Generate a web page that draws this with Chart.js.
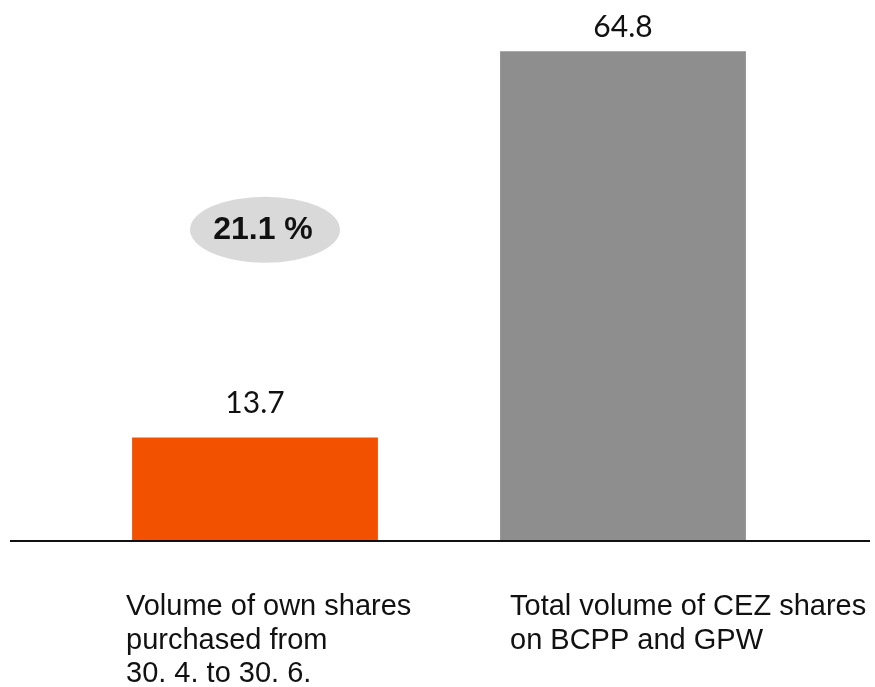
<!DOCTYPE html>
<html lang="en">
<head>
    <meta charset="UTF-8">
    <title>Own shares vs total volume of CEZ shares</title>
    <script src="https://cdn.jsdelivr.net/npm/chart.js"></script>
    <style>
        body {
            margin: 0;
            padding: 0;
            background-color: #ffffff;
        }
        .chart-container {
            width: 875px;
            height: 687px;
            position: relative;
        }
    </style>
</head>
<body>

<div class="chart-container">
    <canvas id="graf"></canvas>
</div>

<script>
// data
var categories = [
    ['Volume of own shares', 'purchased from', '30. 4. to 30. 6.'],
    ['Total volume of CEZ shares', 'on BCPP and GPW']
];
var volumes = [13.7, 64.8];
var barColors = ['#f25100', '#8e8e8e'];
var shareLabel = '21.1 %';

// baseline, value labels, category labels and the share bubble
var extras = {
    id: 'extras',
    afterDatasetsDraw: function(chart) {
        var ctx = chart.ctx;
        var x = chart.scales.x;
        var y = chart.scales.y;
        var meta = chart.getDatasetMeta(0);
        ctx.save();

        // baseline
        ctx.strokeStyle = '#111111';
        ctx.lineWidth = 2;
        ctx.beginPath();
        ctx.moveTo(10, y.bottom);
        ctx.lineTo(870, y.bottom);
        ctx.stroke();

        // values above bars
        ctx.fillStyle = '#111111';
        ctx.font = '30px Lato, "DejaVu Sans", sans-serif';
        ctx.textAlign = 'center';
        ctx.textBaseline = 'alphabetic';
        meta.data.forEach(function(bar, i) {
            var gap = i === 0 ? 24 : 14;
            ctx.fillText(volumes[i].toFixed(1), bar.x, bar.y - gap);
        });

        // category labels, left aligned
        ctx.font = '29px "Liberation Sans", Arial, sans-serif';
        ctx.textAlign = 'left';
        var shifts = [129, 113];
        categories.forEach(function(lines, i) {
            var left = x.getPixelForValue(i) - shifts[i];
            lines.forEach(function(line, j) {
                ctx.fillText(line, left, 615 + j * 33.5);
            });
        });

        // share bubble
        var cx = x.getPixelForValue(0) + 10;
        var cy = y.getPixelForValue(41.2);
        ctx.fillStyle = '#d9d9d9';
        ctx.beginPath();
        ctx.ellipse(cx, cy, 75, 33, 0, 0, Math.PI * 2);
        ctx.fill();
        ctx.fillStyle = '#111111';
        ctx.font = 'bold 32px "Liberation Sans", Arial, sans-serif';
        ctx.textAlign = 'center';
        ctx.textBaseline = 'middle';
        ctx.fillText(shareLabel, cx - 2, cy + 1);

        ctx.restore();
    }
};

var ctx = document.getElementById('graf').getContext('2d');
new Chart(ctx, {
    type: 'bar',
    data: {
        labels: categories,
        datasets: [{
            data: volumes,
            backgroundColor: barColors,
            barPercentage: 0.668,
            categoryPercentage: 1
        }]
    },
    options: {
        responsive: true,
        maintainAspectRatio: false,
        animation: false,
        layout: {
            padding: { left: 71, right: 68, top: 12, bottom: 146 }
        },
        plugins: {
            legend: { display: false },
            tooltip: { enabled: false }
        },
        scales: {
            x: { display: false },
            y: { display: false, min: 0, max: 70 }
        }
    },
    plugins: [extras]
});
</script>

</body>
</html>
